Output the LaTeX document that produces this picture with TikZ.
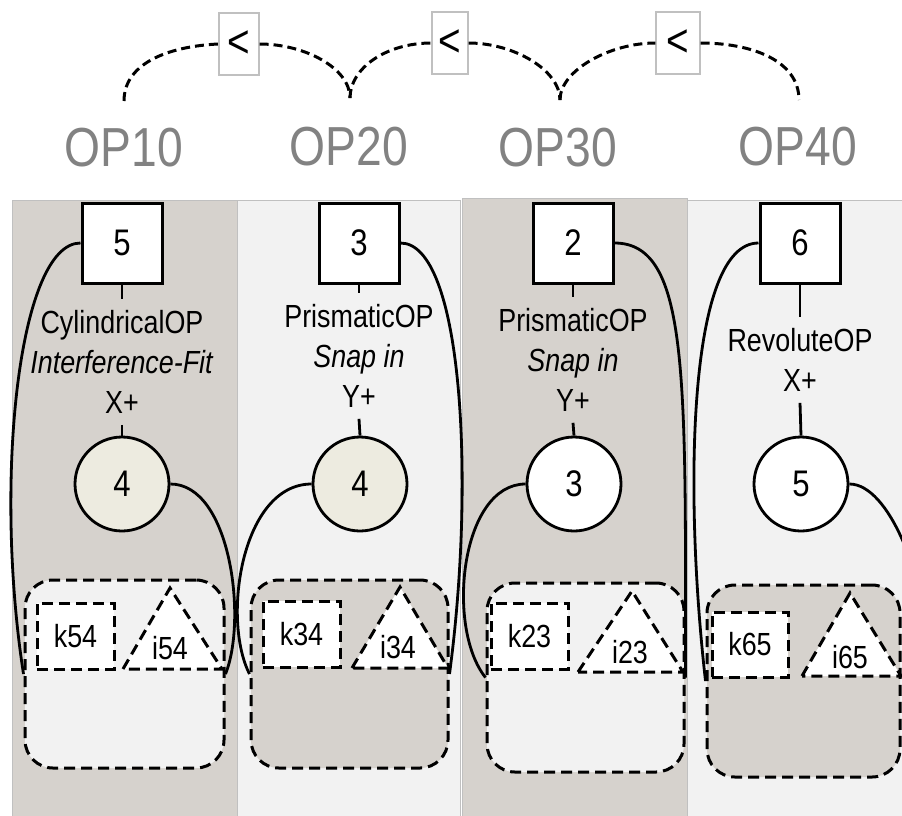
\documentclass[tikz,border=0pt]{standalone}
\usepackage{fontspec}
\setmainfont{Liberation Sans}[FakeStretch=0.84]
\usepackage{xcolor}
\definecolor{opdark}{RGB}{214,210,205}
\definecolor{oplight}{RGB}{242,242,242}
\definecolor{opbeige}{RGB}{237,235,224}
\definecolor{opgray}{RGB}{130,130,130}
\definecolor{opframe}{RGB}{192,192,192}
\usetikzlibrary{positioning,calc}
\tikzset{
  column/.style={draw=opframe,line width=0.8pt},
  partbox/.style={draw,line width=3pt,fill=white,minimum size=80pt,inner sep=0pt,
    font=\fontsize{37}{40}\selectfont},
  partcirc/.style={draw,circle,line width=2.8pt,minimum size=94pt,inner sep=0pt,
    font=\fontsize{37}{40}\selectfont},
  oplabel/.style={align=center,inner xsep=0pt,inner ysep=11pt,
    font=\fontsize{32}{40}\selectfont},
  keyline/.style={line width=3pt,dash pattern=on 11pt off 6pt},
  zonebox/.style={draw,keyline,rounded corners=28pt,inner sep=0pt},
  keybox/.style={draw,keyline,fill=white,inner sep=0pt,minimum width=77pt,
    minimum height=66pt,font=\fontsize{32}{36}\selectfont},
  keytext/.style={inner sep=0pt,font=\fontsize{32}{36}\selectfont},
  link/.style={line width=2.8pt},
  order/.style={line width=3pt,dash pattern=on 9pt off 5pt},
  ltbox/.style={draw=opframe,line width=1.2pt,fill=white,minimum width=40pt,
    minimum height=62pt,inner sep=0pt,font=\fontsize{46}{50}\selectfont},
  optitle/.style={text=opgray,inner sep=0pt,font=\fontsize{55}{60}\selectfont}
}
\begin{document}
\begin{tikzpicture}[x=1pt,y=-1pt]
  \useasboundingbox (0,0) rectangle (902,815);
  \fill[white] (0,0) rectangle (902,815);
  \clip (0,0) rectangle (902,815);

  \filldraw[column,fill=opdark] (12,200) rectangle (237,816);
  \filldraw[column,fill=oplight] (237,200) rectangle (460,816);
  \filldraw[column,fill=opdark] (462,198) rectangle (687,816);
  \filldraw[column,fill=oplight] (687,200) rectangle (903,816);

  \node[optitle] (op1) at (124,148) {OP10};
  \node[optitle] (op2) at (349,147) {OP20};
  \node[optitle] (op3) at (558,148) {OP30};
  \node[optitle] (op4) at (798,147) {OP40};

  \node[ltbox] (lt1) at (239,44) {<};
  \node[ltbox,minimum width=36pt] (lt2) at (450,43) {<};
  \node[ltbox,minimum width=44pt] (lt3) at (678,43) {<};
  \coordinate (t1) at (124,101);
  \coordinate (t2) at (350,98);
  \coordinate (t3) at (560,100);
  \coordinate (t4) at (799,100);
  \draw[order] (t1) .. controls +(0,-40) and +(-45,2) .. (lt1.west);
  \draw[order] (lt1.east) .. controls +(45,0) and +(0,-30) .. (t2);
  \draw[order] (t2) .. controls +(0,-30) and +(-45,0) .. (lt2.west);
  \draw[order] (lt2.east) .. controls +(45,0) and +(0,-30) .. (t3);
  \draw[order] (t3) .. controls +(0,-30) and +(-45,0) .. (lt3.west);
  \draw[order] (lt3.east) .. controls +(50,0) and +(0,-40) .. (t4);

  \node[zonebox,fill=oplight,minimum width=199pt,minimum height=188pt] (z1) at (124.5,674) {};
  \node[zonebox,fill=opdark,minimum width=197pt,minimum height=188pt] (z2) at (349.5,674) {};
  \node[zonebox,fill=oplight,minimum width=197pt,minimum height=189pt] (z3) at (585.5,677.5) {};
  \node[zonebox,fill=opdark,minimum width=193pt,minimum height=192pt] (z4) at (803.5,681) {};

  \node[keybox] (k1) at (75.5,636) {k54};
  \node[keybox] (k2) at (301.5,634) {k34};
  \node[keybox] (k3) at (529.5,636) {k23};
  \node[keybox,minimum width=76pt,minimum height=65pt] (k4) at (750,644.5) {k65};

  \filldraw[keyline,fill=white] (123,669) -- (170,588) -- (222,669) -- cycle;
  \filldraw[keyline,fill=white] (352,668) -- (400,587) -- (448,668) -- cycle;
  \filldraw[keyline,fill=white] (578,672) -- (632,591) -- (683,672) -- cycle;
  \filldraw[keyline,fill=white] (802,676) -- (850,593) -- (901,676) -- cycle;
  \node[keytext] (i1) at (170,648) {i54};
  \node[keytext] (i2) at (398,647) {i34};
  \node[keytext] (i3) at (630,652) {i23};
  \node[keytext] (i4) at (850,657) {i65};

  \node[partbox] (sq1) at (122,243) {5};
  \node[partbox] (sq2) at (359,243) {3};
  \node[partbox] (sq3) at (573,243) {2};
  \node[partbox] (sq4) at (800,243) {6};

  \node[oplabel] (lab1) at (122,362) {CylindricalOP\\\textit{Interference-Fit}\\X+};
  \node[oplabel] (lab2) at (359,356) {PrismaticOP\\\textit{Snap in}\\Y+};
  \node[oplabel] (lab3) at (573,360) {PrismaticOP\\\textit{Snap in}\\Y+};
  \node[oplabel] (lab4) at (800,360) {RevoluteOP\\X+};

  \node[partcirc,fill=opbeige] (c1) at (122,484) {4};
  \node[partcirc,fill=opbeige] (c2) at (360,484) {4};
  \node[partcirc,fill=white] (c3) at (574,484) {3};
  \node[partcirc,fill=white] (c4) at (801,484) {5};

  \foreach \i in {1,...,4} {
    \draw[link] (sq\i.south) -- (lab\i.north);
    \draw[link] (lab\i.south) -- (c\i.north);
  }

  \coordinate (c4out) at (925,640);
  \draw[link] (sq1.west) .. controls +(-62,0) and +(-30,-194) .. (z1.west);
  \draw[link] (c1.east) .. controls +(60,0) and +(22,-55) .. (z1.east);
  \draw[link] (c2.west) .. controls +(-70,0) and +(-28,-55) .. (z2.west);
  \draw[link] (sq2.east) .. controls +(62,0) and +(26,-194) .. (z2.east);
  \draw[link] (c3.west) .. controls +(-65,0) and +(-40,-50) .. (z3.west);
  \draw[link] (sq3.east) .. controls +(75,0) and +(0,-300) .. (z3.east);
  \draw[link] (sq4.west) .. controls +(-70,0) and +(-22,-194) .. (z4.west);
  \draw[link] (c4.east) .. controls +(40,0) and +(0,-60) .. (c4out);
\end{tikzpicture}
\end{document}
